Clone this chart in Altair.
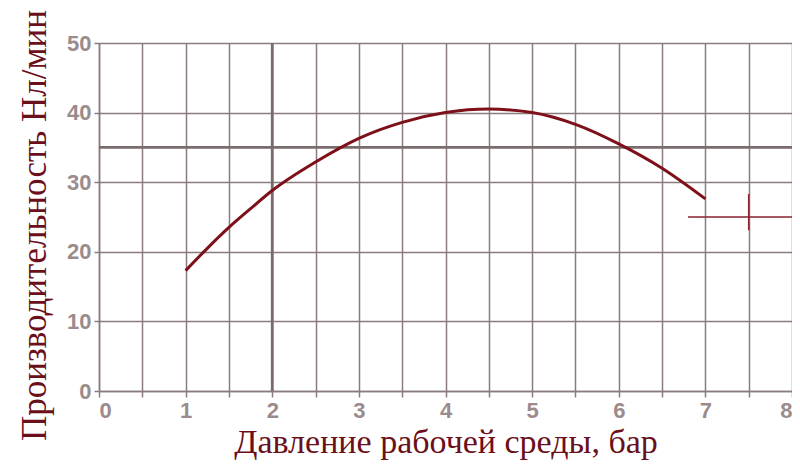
import altair as alt
import pandas as pd

# Curve data (pressure in bar, capacity in Nl/min)
pressure = [1.0, 1.25, 1.5, 1.75, 2.0, 2.5, 3.0, 3.5, 4.0, 4.5, 5.0, 5.5, 6.0, 6.5, 7.0]
capacity = [17.3, 20.5, 23.5, 26.2, 28.8, 32.9, 36.3, 38.6, 40.0, 40.5, 40.0, 38.3, 35.5, 32.0, 27.6]

# Emphasised grid lines
emph_x = [2]
emph_y = [35]

# Cross marker
cross_h_x = [6.8]
cross_h_x2 = [8.0]
cross_h_y = [25]
cross_v_x = [7.5]
cross_v_y = [23.1]
cross_v_y2 = [28.3]

x_ticks = [i * 0.5 for i in range(17)]
y_ticks = [0, 5, 10, 15, 20, 25, 30, 35, 40, 45, 50]

grid_color = "#8a7c7e"
label_color = "#9b8b8c"
title_color = "#6b0f1a"
line_color = "#7d1018"

df = pd.DataFrame({"x": pressure, "y": capacity})

xscale = alt.Scale(domain=[0, 8], nice=False, zero=False)
yscale = alt.Scale(domain=[0, 50], nice=False, zero=False)

xaxis = alt.Axis(
    values=x_ticks,
    labelExpr="datum.value % 1 == 0 ? format(datum.value, 'd') : ''",
    grid=True, gridColor=grid_color, gridWidth=1.5, gridOpacity=1,
    domainColor=grid_color, domainWidth=1.5,
    tickColor=grid_color, tickSize=6, tickWidth=1.5,
    labelFont="Liberation Sans", labelFontSize=22, labelFontWeight="bold",
    labelColor=label_color, labelPadding=3,
    title="Давление рабочей среды, бар",
    titleFont="Liberation Serif", titleFontSize=34, titleFontWeight="normal",
    titleColor=title_color, titlePadding=4,
)
yaxis = alt.Axis(
    values=y_ticks,
    labelExpr="datum.value % 10 == 0 ? format(datum.value, 'd') : ''",
    grid=True, gridColor=grid_color, gridWidth=1.5, gridOpacity=1,
    domainColor=grid_color, domainWidth=1.5,
    tickColor=grid_color, tickSize=5, tickWidth=1.5,
    labelFont="Liberation Sans", labelFontSize=22, labelFontWeight="bold",
    labelColor=label_color, labelPadding=3,
    title="Производительность Нл/мин",
    titleFont="Liberation Serif", titleFontSize=35, titleFontWeight="normal",
    titleColor=title_color, titlePadding=14, titleY=182,
)

curve = alt.Chart(df).mark_line(color=line_color, strokeWidth=3, interpolate="monotone").encode(
    x=alt.X("x:Q", scale=xscale, axis=xaxis),
    y=alt.Y("y:Q", scale=yscale, axis=yaxis),
)

vline = alt.Chart(pd.DataFrame({"x": emph_x})).mark_rule(color="#7a6b6d", strokeWidth=2.8).encode(
    x=alt.X("x:Q", scale=xscale)
)
hline = alt.Chart(pd.DataFrame({"y": emph_y})).mark_rule(color="#7a6b6d", strokeWidth=2.8).encode(
    y=alt.Y("y:Q", scale=yscale)
)

cross_h = alt.Chart(pd.DataFrame({"x": cross_h_x, "x2": cross_h_x2, "y": cross_h_y})).mark_rule(
    color="#8b2030", strokeWidth=1.5
).encode(x=alt.X("x:Q", scale=xscale), x2="x2:Q", y=alt.Y("y:Q", scale=yscale))

cross_v = alt.Chart(pd.DataFrame({"x": cross_v_x, "y": cross_v_y, "y2": cross_v_y2})).mark_rule(
    color="#8b2030", strokeWidth=1.5
).encode(x=alt.X("x:Q", scale=xscale), y=alt.Y("y:Q", scale=yscale), y2="y2:Q")

chart = alt.layer(vline, hline, cross_h, cross_v, curve).properties(
    width=693, height=348,
    autosize=alt.AutoSizeParams(type="none"),
    padding={"left": 91, "top": 35, "right": 0, "bottom": 70},
).configure_view(stroke=None).configure(background="white")

chart.save("out.html", embed_options={"renderer": "svg", "actions": False})
